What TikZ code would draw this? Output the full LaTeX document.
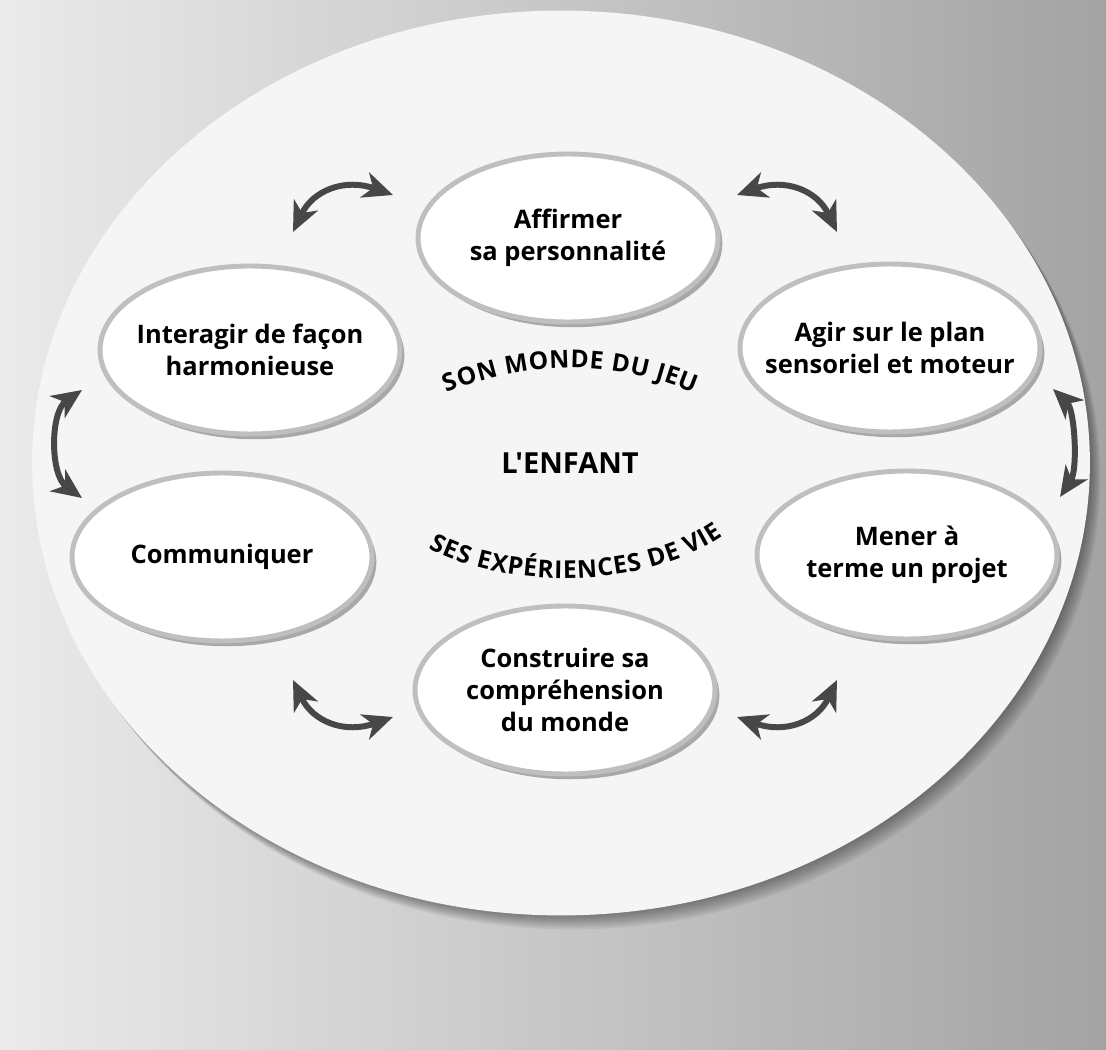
\documentclass[tikz,border=0pt]{standalone}
\usepackage{fontspec}
\newfontfamily\chartfont{Open Sans}
\usepackage{tikz}
\usetikzlibrary{shapes, arrows.meta, calc, positioning, shadows, decorations.text}

\newcommand{\arcfont}{\chartfont\bfseries\fontsize{14}{16}\selectfont}

\begin{document}
\begin{tikzpicture}[x=0.02cm, y=-0.02cm, >={Stealth[length=17pt, width=15pt, inset=5pt]}]
	\tikzstyle{bubble} = [ellipse, draw=black!25, line width=2.8pt, fill=white, inner sep=0pt, minimum width=6cm, minimum height=3.36cm, drop shadow={shadow xshift=2.5pt, shadow yshift=-3pt, opacity=0.45, fill=black!70}]
	\tikzstyle{bubbletext} = [align=center, font=\chartfont\bfseries\fontsize{14.5}{18}\selectfont]
	\tikzstyle{twoway} = [<->, line width=3.4pt, draw=black!72]

	\useasboundingbox (0,0) rectangle (1106,1050);
	\shade[left color=black!8, right color=black!36] (0,0) rectangle (1106,1050);

	% soft shadow under the big disc
	\foreach \s in {1,...,7}
		\fill[black, opacity=0.06] ({561+1.5*\s}, {463+2*\s}) ellipse [x radius=10.58cm, y radius=9.05cm];

	\begin{scope}
		\path
			node[ellipse, fill=black!4, inner sep=0pt, minimum width=21.16cm, minimum height=18.1cm] (monde) at (561,463) {}
			node[font=\chartfont\bfseries\fontsize{16.5}{18}\selectfont] (enfant) at (570,463) {L'ENFANT}

			node[bubble, label={[bubbletext]center:{Affirmer\\sa personnalité}}] (affirmer) at (568,238) {}
			node[bubble, label={[bubbletext]center:{Agir sur le plan\\sensoriel et moteur}}] (agir) at (890,348) {}
			node[bubble, label={[bubbletext]center:{Mener à\\terme un projet}}] (mener) at (907,555) {}
			node[bubble, label={[bubbletext]center:{Construire sa\\compréhension\\du monde}}] (construire) at (565,690) {}
			node[bubble, label={[bubbletext]center:{Communiquer}}] (communiquer) at (222,557) {}
			node[bubble, label={[bubbletext]center:{Interagir de façon\\harmonieuse}}] (interagir) at (250,350) {}
		;

		% texts bent round the centre
		\path[decorate, decoration={text along path, text align={fit to path}, text={|\arcfont|SON MONDE DU JEU}}]
			(447,393) .. controls (528,359) and (612,359) .. (694,393);
		\path[decorate, decoration={text along path, text align={fit to path}, text={|\arcfont|SES EXP{É}RIENCES DE VIE}}]
			(429,548) .. controls (505,590) and (645,590) .. (723,536);
	\end{scope}

	% two-way arrows between neighbours
	\coordinate (ia) at (293,232);
	\coordinate (ib) at (393,195);
	\coordinate (aa) at (737,195);
	\coordinate (ab) at (837,232);
	\coordinate (ma) at (1053,389);
	\coordinate (mb) at (1060,497);
	\coordinate (ca) at (82,390);
	\coordinate (cb) at (82,498);
	\coordinate (sa) at (293,680);
	\coordinate (sb) at (393,717);
	\coordinate (ta) at (737,717);
	\coordinate (tb) at (837,680);

	\draw[twoway] (ia) .. controls +(20,-42) and +(-48,-17) .. (ib);
	\draw[twoway] (aa) .. controls +(48,-17) and +(-20,-42) .. (ab);
	\draw[twoway] (ma) .. controls +(22,21) and +(18,-27) .. (mb);
	\draw[twoway] (ca) .. controls +(-32,22) and +(-32,-23) .. (cb);
	\draw[twoway] (sa) .. controls +(20,42) and +(-48,17) .. (sb);
	\draw[twoway] (ta) .. controls +(48,17) and +(-20,42) .. (tb);
\end{tikzpicture}
\end{document}
